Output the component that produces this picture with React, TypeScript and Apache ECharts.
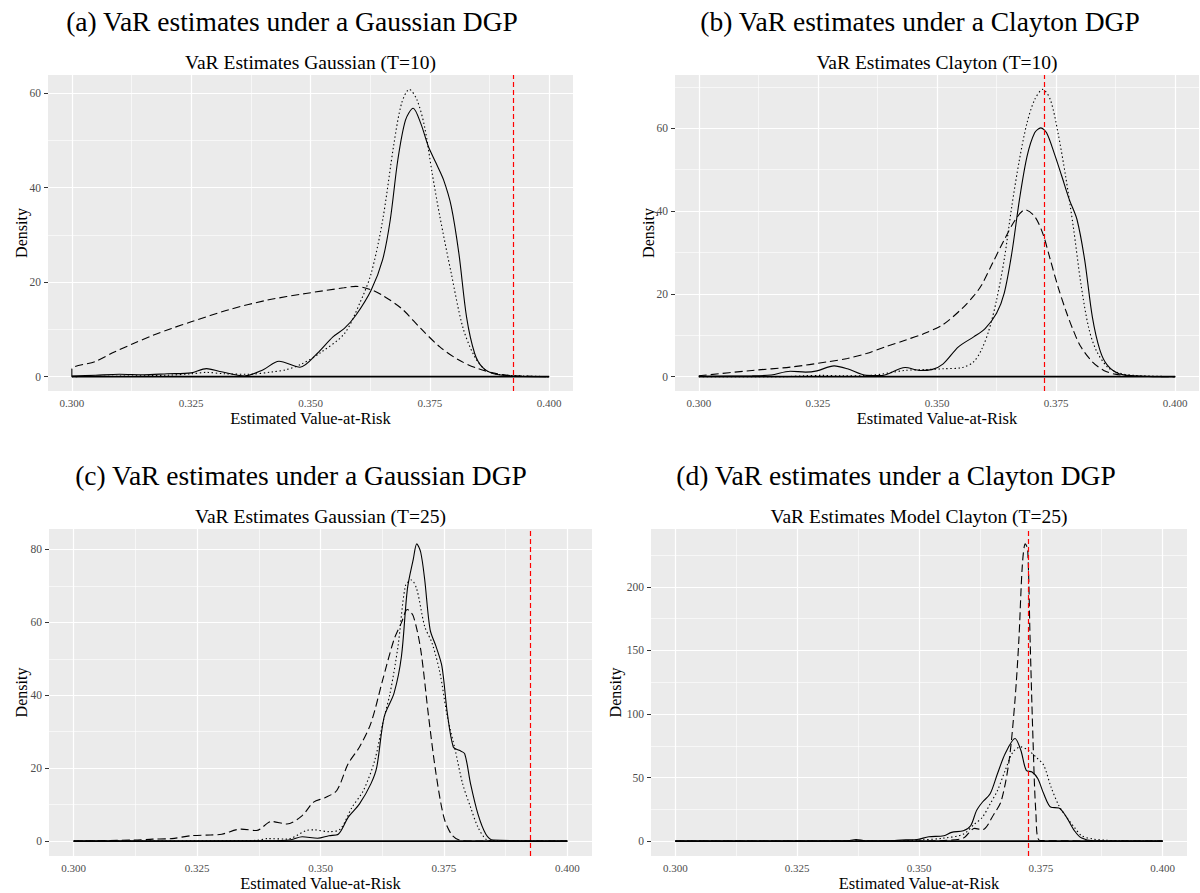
import React, { useEffect, useRef } from "react";
import * as echarts from "echarts";

// ---------- tick values ----------
const X_MAJOR = [0.3, 0.325, 0.35, 0.375, 0.4];
const X_MINOR = [0.3125, 0.3375, 0.3625, 0.3875];
const X_MIN = 0.295;
const X_MAX = 0.405;

const A_Y_MAJOR = [0, 20, 40, 60];
const A_Y_MINOR = [10, 30, 50];
const B_Y_MAJOR = [0, 20, 40, 60];
const B_Y_MINOR = [10, 30, 50, 70];
const C_Y_MAJOR = [0, 20, 40, 60, 80];
const C_Y_MINOR = [10, 30, 50, 70];
const D_Y_MAJOR = [0, 50, 100, 150, 200];
const D_Y_MINOR = [25, 75, 125, 175, 225];

// ---------- titles ----------
const MAIN_TITLES = [
  "(a) VaR estimates under a Gaussian DGP",
  "(b) VaR estimates under a Clayton DGP",
  "(c) VaR estimates under a Gaussian DGP",
  "(d) VaR estimates under a Clayton DGP",
];
const SUB_TITLES = [
  "VaR Estimates Gaussian (T=10)",
  "VaR Estimates Clayton (T=10)",
  "VaR Estimates Gaussian (T=25)",
  "VaR Estimates Model Clayton (T=25)",
];
const X_TITLE = "Estimated Value-at-Risk";
const Y_TITLE = "Density";

// ---------- true VaR (red dashed line) ----------
const TRUE_VAR = [0.3925, 0.3725, 0.3925, 0.3725];

// ---------- panel (a) ----------
const A_X_SOLID = [0.3, 0.305, 0.31, 0.315, 0.32, 0.325, 0.3282, 0.331, 0.3362, 0.34, 0.3434, 0.3478, 0.3514, 0.3547, 0.3571, 0.3595, 0.3627, 0.3651, 0.3667, 0.3683, 0.3699, 0.3715, 0.3731, 0.3747, 0.3763, 0.3779, 0.3795, 0.3811, 0.3827, 0.3844, 0.386, 0.3884, 0.3916, 0.3972, 0.4];
const A_Y_SOLID = [0.1, 0.3, 0.5, 0.4, 0.6, 0.8, 1.7, 1.1, 0.15, 1.4, 3.25, 2.0, 4.9, 8.4, 10.2, 13.0, 18.3, 24.7, 33.1, 45.9, 54.3, 56.8, 53.6, 48.7, 45.2, 41.6, 36.0, 26.0, 12.6, 4.9, 2.0, 0.6, 0.2, 0.0, 0.0];
const A_X_DOT = [0.3, 0.31, 0.32, 0.325, 0.3282, 0.332, 0.337, 0.342, 0.345, 0.348, 0.352, 0.3571, 0.3603, 0.3627, 0.3651, 0.3675, 0.3691, 0.3707, 0.3723, 0.3739, 0.3755, 0.3771, 0.3795, 0.3819, 0.3844, 0.3868, 0.3892, 0.3932, 0.4];
const A_Y_DOT = [0.0, 0.1, 0.3, 0.6, 0.9, 0.6, 0.5, 1.0, 1.5, 2.6, 5.0, 9.1, 15.5, 21.8, 33.0, 49.4, 57.9, 60.8, 58.6, 52.9, 43.0, 33.9, 21.8, 10.5, 4.2, 1.3, 0.5, 0.2, 0.0];
const A_X_DASH = [0.3, 0.3, 0.3049, 0.3089, 0.3129, 0.3169, 0.3209, 0.325, 0.333, 0.341, 0.349, 0.357, 0.3595, 0.3627, 0.3651, 0.3691, 0.3731, 0.3771, 0.3811, 0.3851, 0.3892, 0.3932, 0.4];
const A_Y_DASH = [0.0, 1.6, 3.2, 5.2, 7.0, 8.7, 10.2, 11.6, 14.2, 16.2, 17.6, 18.8, 19.1, 18.4, 17.2, 14.4, 10.2, 6.3, 3.5, 1.7, 0.6, 0.15, 0.0];

// ---------- panel (b) ----------
const B_X_SOLID = [0.3, 0.3112, 0.3152, 0.3192, 0.3224, 0.3248, 0.3284, 0.3312, 0.3352, 0.3384, 0.3433, 0.3465, 0.3489, 0.3513, 0.3545, 0.3577, 0.3601, 0.3625, 0.3641, 0.3657, 0.3673, 0.3689, 0.3705, 0.3718, 0.373, 0.3746, 0.3762, 0.3778, 0.3794, 0.381, 0.3826, 0.3842, 0.3858, 0.3882, 0.3914, 0.3954, 0.4];
const B_Y_SOLID = [0.1, 0.2, 0.4, 1.3, 1.1, 1.4, 2.6, 1.9, 0.3, 0.25, 2.2, 1.5, 1.7, 3.1, 7.2, 9.6, 11.6, 15.3, 20.1, 29.8, 42.7, 53.2, 58.9, 60.1, 58.9, 54.0, 48.4, 42.7, 37.9, 28.2, 14.5, 6.4, 2.7, 0.7, 0.2, 0.0, 0.0];
const B_X_DOT = [0.3, 0.318, 0.322, 0.326, 0.33, 0.336, 0.3433, 0.3473, 0.3513, 0.3553, 0.3577, 0.3593, 0.3609, 0.3625, 0.3641, 0.3657, 0.3673, 0.3689, 0.3705, 0.3722, 0.3738, 0.3754, 0.377, 0.3786, 0.3802, 0.3818, 0.3834, 0.3858, 0.3882, 0.3914, 0.4];
const B_Y_DOT = [0.0, 0.0, 0.2, 0.3, 0.2, 0.3, 1.5, 1.7, 1.9, 2.2, 3.6, 6.4, 11.2, 18.5, 28.2, 41.1, 52.4, 61.3, 66.9, 69.4, 66.9, 58.9, 48.4, 36.3, 22.5, 12.0, 6.4, 2.3, 0.9, 0.3, 0.0];
const B_X_DASH = [0.3, 0.3112, 0.3192, 0.3272, 0.3312, 0.3352, 0.3392, 0.3433, 0.3473, 0.3513, 0.3553, 0.3577, 0.3593, 0.3617, 0.3641, 0.3665, 0.3685, 0.3705, 0.3722, 0.3738, 0.3754, 0.377, 0.3786, 0.3802, 0.3826, 0.385, 0.3874, 0.3914, 0.4];
const B_Y_DASH = [0.2, 1.5, 2.3, 3.6, 4.4, 5.6, 7.2, 8.8, 10.4, 12.6, 16.5, 19.5, 22.0, 27.5, 33.0, 38.0, 40.3, 38.7, 34.6, 28.2, 21.7, 16.1, 11.2, 7.2, 3.6, 1.5, 0.6, 0.1, 0.0];

// ---------- panel (c) ----------
const C_X_SOLID = [0.3, 0.34, 0.344, 0.3463, 0.3494, 0.3517, 0.3536, 0.3556, 0.3579, 0.3602, 0.3614, 0.3629, 0.3649, 0.3664, 0.3676, 0.3688, 0.3695, 0.3703, 0.3711, 0.3722, 0.3734, 0.3746, 0.3757, 0.3769, 0.3781, 0.3792, 0.3804, 0.3819, 0.3835, 0.385, 0.4];
const C_Y_SOLID = [0.0, 0.1, 0.4, 1.2, 0.8, 1.5, 1.9, 6.5, 10.2, 15.7, 20.3, 34.1, 40.6, 50.7, 69.1, 77.3, 81.5, 79.2, 71.8, 58.0, 53.4, 47.9, 35.0, 25.8, 24.9, 24.0, 15.7, 7.4, 1.9, 0.3, 0.0];
const C_X_DOT = [0.3, 0.337, 0.3393, 0.3432, 0.3471, 0.3486, 0.3517, 0.354, 0.3564, 0.3587, 0.361, 0.3626, 0.3641, 0.3657, 0.3672, 0.3684, 0.3695, 0.3711, 0.3726, 0.3742, 0.3757, 0.3773, 0.3788, 0.3804, 0.3819, 0.3835, 0.385, 0.4];
const C_Y_DOT = [0.0, 0.2, 0.7, 0.55, 2.9, 3.1, 2.6, 3.3, 9.3, 13.9, 22.2, 32.3, 40.6, 53.4, 70.0, 71.6, 69.1, 58.9, 54.3, 46.1, 34.1, 24.9, 15.7, 9.3, 3.8, 0.55, 0.1, 0.0];
const C_X_DASH = [0.3, 0.3122, 0.316, 0.3199, 0.3238, 0.3277, 0.33, 0.3339, 0.337, 0.3401, 0.3432, 0.3463, 0.3486, 0.3509, 0.3533, 0.3556, 0.3579, 0.3602, 0.3626, 0.3649, 0.3664, 0.3676, 0.3688, 0.3703, 0.3719, 0.3734, 0.375, 0.3765, 0.3781, 0.3812, 0.4];
const C_Y_DASH = [0.0, 0.3, 0.55, 0.7, 1.5, 1.7, 1.9, 3.3, 2.9, 5.4, 4.7, 7.0, 10.7, 11.9, 13.9, 21.2, 25.8, 32.3, 44.2, 55.3, 59.9, 63.5, 61.7, 52.5, 34.1, 18.5, 6.5, 1.9, 0.3, 0.0, 0.0];

// ---------- panel (d) ----------
const D_X_SOLID = [0.3, 0.335, 0.3371, 0.339, 0.345, 0.3473, 0.3496, 0.352, 0.3551, 0.3567, 0.3591, 0.3606, 0.3618, 0.363, 0.3646, 0.3661, 0.3677, 0.3697, 0.3709, 0.372, 0.3732, 0.3744, 0.3756, 0.3771, 0.3787, 0.3803, 0.3819, 0.3834, 0.3858, 0.4];
const D_Y_SOLID = [0.0, 0.2, 1.3, 0.3, 0.5, 1.0, 1.3, 3.4, 4.2, 6.9, 8.2, 12.1, 24.0, 30.6, 37.2, 53.0, 68.9, 80.7, 71.5, 55.7, 54.4, 49.1, 37.2, 26.6, 26.1, 18.7, 8.2, 2.4, 0.3, 0.0];
const D_X_DOT = [0.3, 0.345, 0.35, 0.3551, 0.3591, 0.3614, 0.363, 0.3646, 0.3661, 0.3677, 0.3693, 0.3709, 0.3724, 0.374, 0.3756, 0.3771, 0.3787, 0.3803, 0.3819, 0.3834, 0.3858, 0.3881, 0.3913, 0.4];
const D_Y_DOT = [0.0, 0.2, 0.8, 2.4, 5.5, 13.5, 18.7, 29.3, 39.8, 55.7, 70.2, 74.1, 71.5, 66.2, 59.6, 42.5, 28.0, 18.7, 10.8, 4.2, 1.6, 0.8, 0.2, 0.0];
const D_X_DASH = [0.3, 0.35, 0.3551, 0.3591, 0.3614, 0.363, 0.3654, 0.3669, 0.3685, 0.3697, 0.3705, 0.3712, 0.3718, 0.3723, 0.3728, 0.3734, 0.374, 0.3748, 0.4];
const D_Y_DASH = [0.0, 0.1, 0.5, 2.4, 10.0, 9.0, 21.4, 31.9, 63.6, 111.0, 158.6, 216.6, 233.8, 229.8, 158.6, 79.4, 21.4, 0.5, 0.0];

const FONT = '"Liberation Serif", "Times New Roman", serif';

const zip = (xs: number[], ys: number[]) => xs.map((x, i) => [x, ys[i]]);

type Panel = {
  grid: { left: number; top: number; width: number; height: number };
  yMajor: number[];
  yMinor: number[];
  solid: number[][];
  dotted: number[][];
  dashed: number[][];
  mainTitle: { x: number; y: number };
  yTitleX: number;
};

const PANELS: Panel[] = [
  {
    grid: { left: 48, top: 75, width: 525, height: 316 },
    yMajor: A_Y_MAJOR, yMinor: A_Y_MINOR,
    solid: zip(A_X_SOLID, A_Y_SOLID), dotted: zip(A_X_DOT, A_Y_DOT), dashed: zip(A_X_DASH, A_Y_DASH),
    mainTitle: { x: 292, y: 21 }, yTitleX: 21,
  },
  {
    grid: { left: 675, top: 75, width: 524, height: 316 },
    yMajor: B_Y_MAJOR, yMinor: B_Y_MINOR,
    solid: zip(B_X_SOLID, B_Y_SOLID), dotted: zip(B_X_DOT, B_Y_DOT), dashed: zip(B_X_DASH, B_Y_DASH),
    mainTitle: { x: 920, y: 21 }, yTitleX: 648,
  },
  {
    grid: { left: 49, top: 529, width: 543, height: 327 },
    yMajor: C_Y_MAJOR, yMinor: C_Y_MINOR,
    solid: zip(C_X_SOLID, C_Y_SOLID), dotted: zip(C_X_DOT, C_Y_DOT), dashed: zip(C_X_DASH, C_Y_DASH),
    mainTitle: { x: 301, y: 475 }, yTitleX: 21,
  },
  {
    grid: { left: 651, top: 529, width: 536, height: 327 },
    yMajor: D_Y_MAJOR, yMinor: D_Y_MINOR,
    solid: zip(D_X_SOLID, D_Y_SOLID), dotted: zip(D_X_DOT, D_Y_DOT), dashed: zip(D_X_DASH, D_Y_DASH),
    mainTitle: { x: 896, y: 475 }, yTitleX: 615,
  },
];

function buildOption() {
  const grids: any[] = [];
  const xAxes: any[] = [];
  const yAxes: any[] = [];
  const series: any[] = [];
  const graphics: any[] = [];

  const textStyle = (text: string, size: number, color = "#000") => ({
    text,
    font: `${size}px ${FONT}`,
    fill: color,
    align: "center",
    verticalAlign: "middle",
    textAlign: "center",
    textVerticalAlign: "middle",
  });

  PANELS.forEach((p, i) => {
    grids.push({
      ...p.grid,
      show: true,
      backgroundColor: "#EBEBEB",
      borderWidth: 0,
      containLabel: false,
    });

    const all = [...p.solid, ...p.dotted, ...p.dashed].map((d) => d[1]);
    const M = Math.max(...all);
    const yMin = -0.05 * M;
    const yMax = 1.05 * M;

    xAxes.push({
      gridIndex: i,
      type: "value",
      min: X_MIN,
      max: X_MAX,
      axisLine: { show: false },
      axisTick: {
        show: true,
        customValues: X_MAJOR,
        length: 4,
        lineStyle: { color: "#333333", width: 1 },
      },
      axisLabel: {
        customValues: X_MAJOR,
        formatter: (v: number) => v.toFixed(3),
        color: "#4D4D4D",
        fontSize: 11,
        lineHeight: 11,
        fontFamily: FONT,
        margin: 6,
      },
      splitLine: { show: false },
      minorSplitLine: { show: false },
    });

    yAxes.push({
      gridIndex: i,
      type: "value",
      min: yMin,
      max: yMax,
      axisLine: { show: false },
      axisTick: {
        show: true,
        customValues: p.yMajor,
        length: 4,
        lineStyle: { color: "#333333", width: 1 },
      },
      axisLabel: {
        customValues: p.yMajor,
        formatter: (v: number) => String(Math.round(v)),
        color: "#4D4D4D",
        fontSize: 11.5,
        fontFamily: FONT,
        margin: 7,
      },
      splitLine: { show: false },
      minorSplitLine: { show: false },
    });

    const gridLineData: any[] = [];
    X_MAJOR.forEach((v) => gridLineData.push({ xAxis: v, lineStyle: { color: "#FFFFFF", width: 1.2, type: "solid" } }));
    X_MINOR.forEach((v) => gridLineData.push({ xAxis: v, lineStyle: { color: "#FFFFFF", width: 0.6, type: "solid" } }));
    p.yMajor.forEach((v) => gridLineData.push({ yAxis: v, lineStyle: { color: "#FFFFFF", width: 1.2, type: "solid" } }));
    p.yMinor.forEach((v) => gridLineData.push({ yAxis: v, lineStyle: { color: "#FFFFFF", width: 0.6, type: "solid" } }));

    // baseline (outline bottom) + panel grid lines
    series.push({
      type: "line",
      xAxisIndex: i,
      yAxisIndex: i,
      data: [[0.3, 0], [0.4, 0]],
      showSymbol: false,
      symbol: "none",
      silent: true,
      z: 4,
      lineStyle: { color: "#000", width: 1.6 },
      markLine: {
        silent: true,
        z: 1,
        precision: 6,
        symbol: ["none", "none"],
        label: { show: false },
        emphasis: { disabled: true },
        data: gridLineData,
      },
    });

    const lineSeries = (data: number[][], type: any, z: number) => ({
      type: "line",
      xAxisIndex: i,
      yAxisIndex: i,
      data,
      showSymbol: false,
      symbol: "none",
      silent: true,
      smooth: 0.3,
      z,
      lineStyle: { color: "#000", width: 1.1, type },
    });

    series.push(lineSeries(p.dashed, [8, 4], 3));
    series.push(lineSeries(p.dotted, [1.4, 2.6], 3));
    series.push(lineSeries(p.solid, "solid", 3));

    // red dashed true VaR line
    series.push({
      type: "line",
      xAxisIndex: i,
      yAxisIndex: i,
      data: [],
      silent: true,
      markLine: {
        silent: true,
        z: 10,
        precision: 6,
        symbol: ["none", "none"],
        label: { show: false },
        emphasis: { disabled: true },
        data: [{ xAxis: TRUE_VAR[i], lineStyle: { color: "#FF0000", width: 1.2, type: [5, 3] } }],
      },
    });

    // titles and axis names
    const cx = p.grid.left + p.grid.width / 2;
    const cy = p.grid.top + p.grid.height / 2;
    const bottom = p.grid.top + p.grid.height;
    graphics.push({ type: "text", x: p.mainTitle.x, y: p.mainTitle.y, style: textStyle(MAIN_TITLES[i], 27.5) });
    graphics.push({ type: "text", x: cx, y: p.grid.top - 13, style: textStyle(SUB_TITLES[i], 19.5) });
    graphics.push({ type: "text", x: cx, y: bottom + 27.5, style: textStyle(X_TITLE, 16.5) });
    graphics.push({ type: "text", x: p.yTitleX, y: cy, rotation: Math.PI / 2, style: textStyle(Y_TITLE, 16) });
  });

  return {
    animation: false,
    backgroundColor: "#FFFFFF",
    grid: grids,
    xAxis: xAxes,
    yAxis: yAxes,
    series,
    graphic: graphics,
  };
}

export default function App() {
  const ref = useRef<HTMLDivElement>(null);
  useEffect(() => {
    if (!ref.current) return;
    const chart = echarts.init(ref.current, undefined, { renderer: "svg" });
    chart.setOption(buildOption() as any);
    return () => chart.dispose();
  }, []);
  return (
    <div
      ref={ref}
      style={{ position: "absolute", left: 0, top: 0, width: 1200, height: 893, background: "#fff" }}
    />
  );
}
